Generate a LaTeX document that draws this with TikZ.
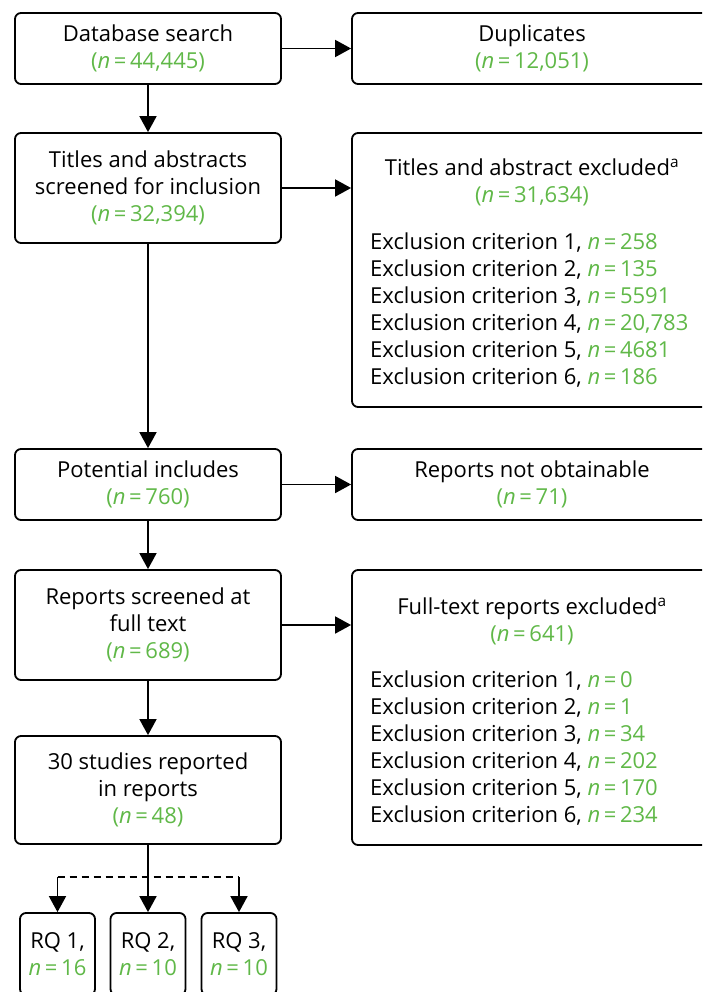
\documentclass[tikz,border=0pt]{standalone}
\usepackage{fontspec}
\setmainfont{Open Sans}
\usetikzlibrary{arrows.meta}

\definecolor{countgreen}{RGB}{96,184,72}
\newcommand{\total}[1]{\textcolor{countgreen}{(\textit{n}\,=\,#1)}}
\newcommand{\crit}[2]{Exclusion criterion #1, \textcolor{countgreen}{\textit{n}\,=\,#2}}

\tikzset{
  box/.style={draw, line width=1.8pt, rounded corners=6pt, align=center, inner sep=0pt},
  flow/.style={line width=1.8pt, -{Triangle[width=17pt,length=16pt]}},
}

\begin{document}
\begin{tikzpicture}[x=1pt, y=-1pt, font=\fontsize{22}{27}\selectfont]
    \useasboundingbox (0,0) rectangle (702,992);
    \clip (0,0) rectangle (702,992);

    % Left column
    \node[box, minimum width=266pt, minimum height=71pt] (search) at (148,48.5) {Database search\\\total{44,445}};
    \node[box, minimum width=266pt, minimum height=110pt] (screen) at (148,188) {Titles and abstracts\\screened for inclusion\\\total{32,394}};
    \node[box, minimum width=266pt, minimum height=71pt] (potential) at (148,484.5) {Potential includes\\\total{760}};
    \node[box, minimum width=266pt, minimum height=110pt] (fulltext) at (148,625) {Reports screened at\\full text\\\total{689}};
    \node[box, minimum width=266pt, minimum height=108pt] (studies) at (148,790) {30 studies reported\\in reports\\\total{48}};

    % Right column
    \node[box, minimum width=360pt, minimum height=71pt] (dups) at (532,48.5) {Duplicates\\\total{12,051}};
    \node[box, minimum width=360pt, minimum height=274pt] (taexcl) at (532,270) {};
    \node[align=center, inner sep=0pt] (taexclhead) at (532,182) {Titles and abstract excluded\textsuperscript{a}\\\total{31,634}};
    \node[anchor=west, align=left, inner sep=0pt] (taexcllist) at (370,310.5) {\crit{1}{258}\\\crit{2}{135}\\\crit{3}{5591}\\\crit{4}{20,783}\\\crit{5}{4681}\\\crit{6}{186}};
    \node[box, minimum width=360pt, minimum height=71pt] (missing) at (532,484.5) {Reports not obtainable\\\total{71}};
    \node[box, minimum width=360pt, minimum height=275pt] (ftexcl) at (532,707.5) {};
    \node[align=center, inner sep=0pt] (ftexclhead) at (532,621) {Full-text reports excluded\textsuperscript{a}\\\total{641}};
    \node[anchor=west, align=left, inner sep=0pt] (ftexcllist) at (370,748) {\crit{1}{0}\\\crit{2}{1}\\\crit{3}{34}\\\crit{4}{202}\\\crit{5}{170}\\\crit{6}{234}};

    % Research questions
    \node[box, minimum width=75pt, minimum height=82pt] (rq2) at (148,954) {RQ 2,\\\textcolor{countgreen}{\textit{n}\,=\,10}};
    \node[box, minimum width=75pt, minimum height=82pt] (rq1) at (57.5,954) {RQ 1,\\\textcolor{countgreen}{\textit{n}\,=\,16}};
    \node[box, minimum width=75pt, minimum height=82pt] (rq3) at (239,954) {RQ 3,\\\textcolor{countgreen}{\textit{n}\,=\,10}};

    % Arrows down the main flow
    \draw[flow] (search) -- (screen);
    \draw[flow] (screen) -- (potential);
    \draw[flow] (potential) -- (fulltext);
    \draw[flow] (fulltext) -- (studies);
    \draw[flow] (studies) -- (rq2);

    % Arrows to the exclusions
    \draw[flow] (search) -- (dups);
    \draw[flow] (screen.east) -- (screen.east -| taexcl.west);
    \draw[flow] (potential) -- (missing);
    \draw[flow] (fulltext.east) -- (fulltext.east -| ftexcl.west);

    % Split to the research questions
    \coordinate (split) at (148,877);
    \draw[line width=1.8pt, dash pattern=on 7pt off 5pt] (rq1.north |- split) -- (rq3.north |- split);
    \draw[flow] (rq1.north |- split) -- (rq1);
    \draw[flow] (rq3.north |- split) -- (rq3);
\end{tikzpicture}
\end{document}
